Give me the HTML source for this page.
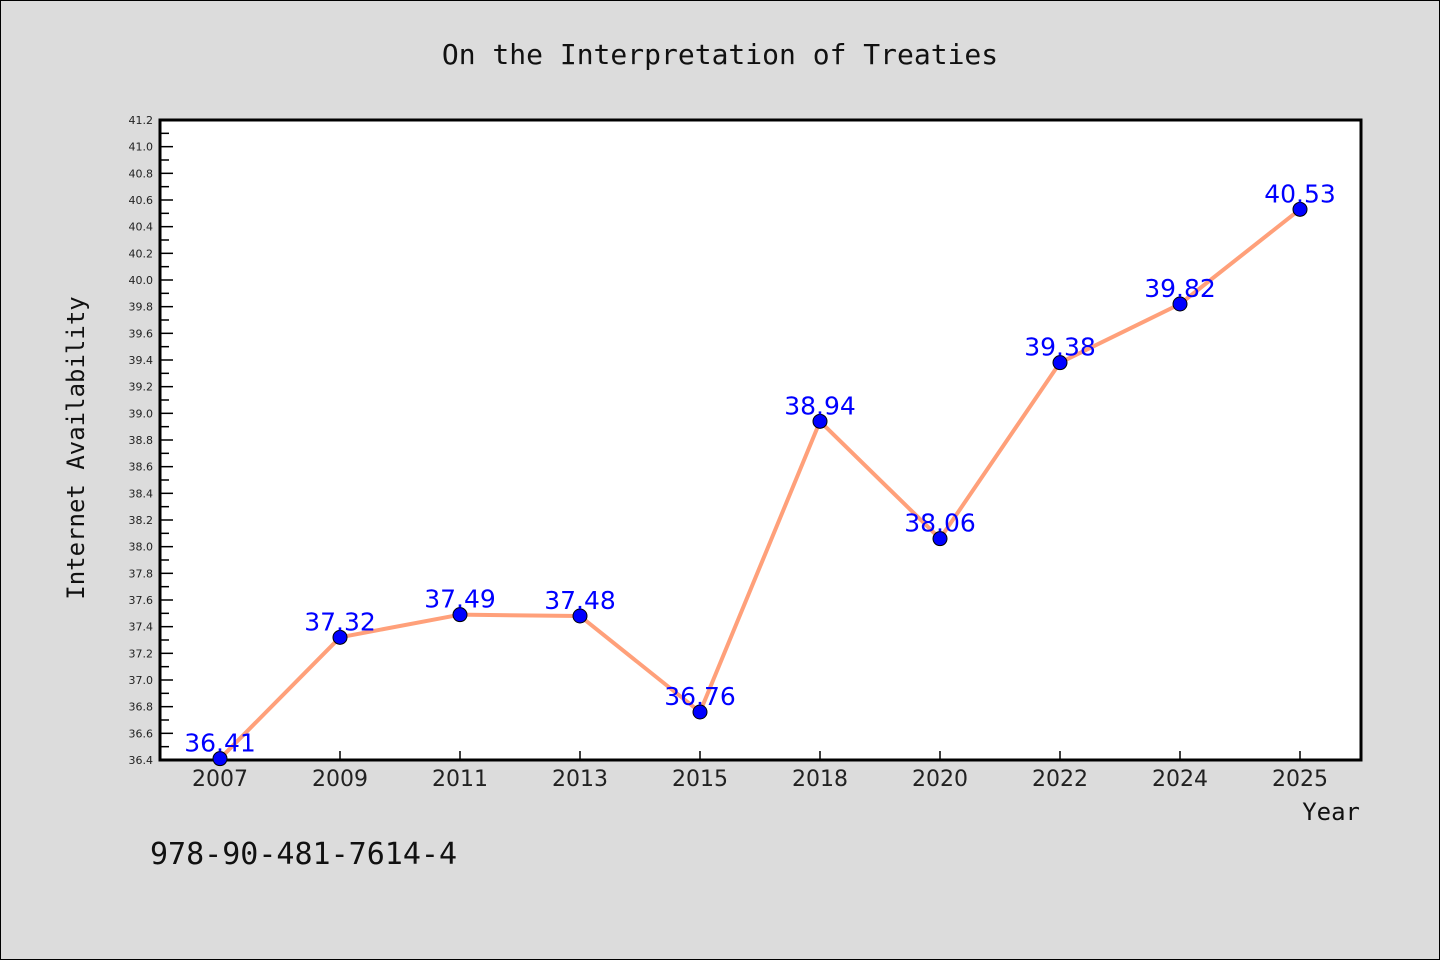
<!DOCTYPE html>
<html><head><meta charset="utf-8"><style>
body{margin:0;background:#dcdcdc;}
svg{display:block}
</style></head><body>
<svg id="chart" width="1440" height="960" xmlns="http://www.w3.org/2000/svg">
<rect x="0.5" y="0.5" width="1439" height="959" fill="#dcdcdc" stroke="#000"/>
<text x="720" y="64" text-anchor="middle" font-family="'DejaVu Sans Mono','Liberation Mono',monospace" font-size="28" fill="#111">On the Interpretation of Treaties</text>
<rect x="160" y="120" width="1201" height="640" fill="#fff"/>
<g id="yticks"></g><g id="xticks"></g>
<rect x="160" y="120" width="1201" height="640" fill="none" stroke="#000" stroke-width="3"/>
<g id="series"></g>
<text transform="translate(84,448) rotate(-90)" text-anchor="middle" font-family="'DejaVu Sans Mono','Liberation Mono',monospace" font-size="24" fill="#111">Internet Availability</text>
<text x="1360" y="820" text-anchor="end" font-family="'DejaVu Sans Mono','Liberation Mono',monospace" font-size="24" fill="#111">Year</text>
<text x="150" y="864" font-family="'DejaVu Sans Mono','Liberation Mono',monospace" font-size="30" fill="#111">978-90-481-7614-4</text>
</svg>
<script>
const categories=["2007","2009","2011","2013","2015","2018","2020","2022","2024","2025"];
const values=[36.41,37.32,37.49,37.48,36.76,38.94,38.06,39.38,39.82,40.53];
const yMin=36.4,yMax=41.2;
const NS="http://www.w3.org/2000/svg";
function xs(i){return 220+i*120;}
function ys(v){return 760-(v-yMin)/(yMax-yMin)*640;}
function mk(tag,attrs,parent){const e=document.createElementNS(NS,tag);for(const k in attrs)e.setAttribute(k,attrs[k]);parent.appendChild(e);return e;}
const yt=document.getElementById('yticks');
for(let k=0;k<=48;k++){
  const v=yMin+k*0.1;const y=ys(v);const major=k%2===0;
  const t=mk('line',{x1:160,x2:major?173:169,y1:y,y2:y,stroke:'#000','stroke-width':1.5},yt);
  
  
  if(major){const l=mk('text',{x:153,y:y+4,'text-anchor':'end','font-family':'DejaVu Sans,sans-serif','font-size':11,fill:'#222'},yt);
    l.textContent=v.toFixed(1);
    
    }
}
const xt=document.getElementById('xticks');
categories.forEach((c,i)=>{
  const x=xs(i);
  const t=mk('line',{x1:x,x2:x,y1:760,y2:751,stroke:'#000','stroke-width':1.5},xt);
  
  
  const l=mk('text',{x:x,y:786,'text-anchor':'middle','font-family':'DejaVu Sans,sans-serif','font-size':22,fill:'#222'},xt);
  l.textContent=c;
  
  
});
const s=document.getElementById('series');
const pl=mk('polyline',{points:values.map((v,i)=>xs(i)+','+ys(v)).join(' '),fill:'none',stroke:'#ffa07a','stroke-width':4,'stroke-linejoin':'round'},s);


values.forEach((v,i)=>{
  const c=mk('circle',{cx:xs(i),cy:ys(v),r:7,fill:'#0000ff',stroke:'#000','stroke-width':1},s);
  
  
  const l=mk('text',{x:xs(i),y:ys(v)-7,'text-anchor':'middle','font-family':'DejaVu Sans,sans-serif','font-size':25,fill:'#0000ff'},s);
  l.textContent=v.toFixed(2);
  
  
});
</script>
</body></html>
